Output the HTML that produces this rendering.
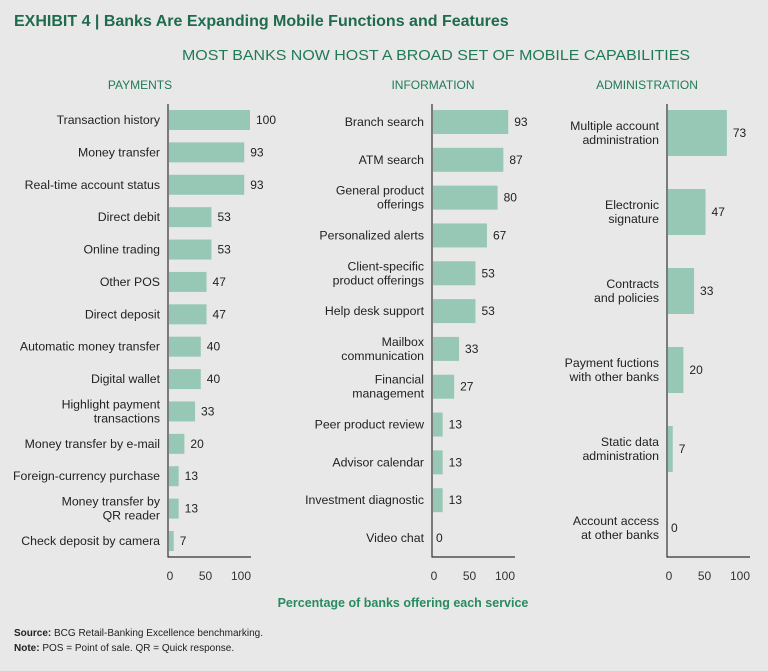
<!DOCTYPE html>
<html><head><meta charset="utf-8">
<style>
body{margin:0;background:#e8e8e8;width:768px;height:666px;overflow:hidden;font-family:"Liberation Sans",sans-serif;}
svg text{font-family:"Liberation Sans",sans-serif;}
</style></head>
<body>
<svg id="chart" width="768" height="666" xmlns="http://www.w3.org/2000/svg">
<rect width="768" height="666" fill="#e8e8e8"/>
<text x="14" y="26" font-size="16" font-weight="bold" fill="#1f6b4e">EXHIBIT 4 | Banks Are Expanding Mobile Functions and Features</text>
<text x="436" y="60" font-size="14.5" fill="#1f7a56" text-anchor="middle" textLength="508" lengthAdjust="spacingAndGlyphs">MOST BANKS NOW HOST A BROAD SET OF MOBILE CAPABILITIES</text>
<text x="403" y="607" font-size="12.5" font-weight="bold" fill="#2a8a60" text-anchor="middle">Percentage of banks offering each service</text>
<text x="14" y="636" font-size="10" fill="#222"><tspan font-weight="bold">Source:</tspan> BCG Retail-Banking Excellence benchmarking.</text>
<text x="14" y="651" font-size="10" fill="#222"><tspan font-weight="bold">Note:</tspan> POS = Point of sale. QR = Quick response.</text>
<g id="panels"></g>
</svg>
<script>
const payCats=["Transaction history","Money transfer","Real-time account status","Direct debit","Online trading","Other POS","Direct deposit","Automatic money transfer","Digital wallet","Highlight payment|transactions","Money transfer by e-mail","Foreign-currency purchase","Money transfer by|QR reader","Check deposit by camera"];
const payVals=[100,93,93,53,53,47,47,40,40,33,20,13,13,7];
const infoCats=["Branch search","ATM search","General product|offerings","Personalized alerts","Client-specific|product offerings","Help desk support","Mailbox|communication","Financial|management","Peer product review","Advisor calendar","Investment diagnostic","Video chat"];
const infoVals=[93,87,80,67,53,53,33,27,13,13,13,0];
const adminCats=["Multiple account|administration","Electronic|signature","Contracts|and policies","Payment fuctions|with other banks","Static data|administration","Account access|at other banks"];
const adminVals=[73,47,33,20,7,0];
const tickVals=[0,50,100];
const NS="http://www.w3.org/2000/svg";
const g=document.getElementById('panels');
function mk(tag,attrs,parent){const e=document.createElementNS(NS,tag);for(const k in attrs)e.setAttribute(k,attrs[k]);(parent||g).appendChild(e);return e;}
function panel(key,title,titleX,cats,vals,x0,yFirst,yLast,barH,axTop){
  const sx=v=>x0+v*0.82;
  const n=cats.length;const step=n>1?(yLast-yFirst)/(n-1):0;
  const sy=i=>yFirst+i*step;
  const t=mk('text',{x:titleX,y:89,'font-size':12,fill:'#1f7a56','text-anchor':'middle'});t.textContent=title;
  
  
  cats.forEach((c,i)=>{
    const cy=sy(i);
    const r=mk('rect',{x:x0+1,y:cy-barH/2,width:Math.max(0,sx(vals[i])-x0-1),height:barH,fill:'#97c8b6'});
    
    
    const v=mk('text',{x:sx(vals[i])+(vals[i]>0?6:4),y:cy+4,'font-size':12,fill:'#222'});v.textContent=vals[i];
    
    
    const lines=c.split('|');
    const lb=mk('text',{x:x0-8,y:cy+4-(lines.length-1)*7,'font-size':12.3,fill:'#222','text-anchor':'end'});
    
    
    lines.forEach((l,j)=>{const ts=mk('tspan',{x:x0-8,dy:j?14:0},lb);ts.textContent=l;});
  });
  const ax=mk('path',{d:`M${x0} ${axTop}V557H${x0+83}`,stroke:'#333','stroke-width':1.2,fill:'none'});
  
  
  tickVals.forEach(tv=>{
    const tt=mk('text',{x:x0+2+tv*0.71,y:580,'font-size':12,fill:'#333','text-anchor':'middle'});tt.textContent=tv;
    
    
  });
}
panel('payments','PAYMENTS',140,payCats,payVals,168,120,541,20,104);
panel('information','INFORMATION',433,infoCats,infoVals,432,122,538,24,104);
panel('administration','ADMINISTRATION',647,adminCats,adminVals,667,133,528,46,104);
</script>
</body></html>
